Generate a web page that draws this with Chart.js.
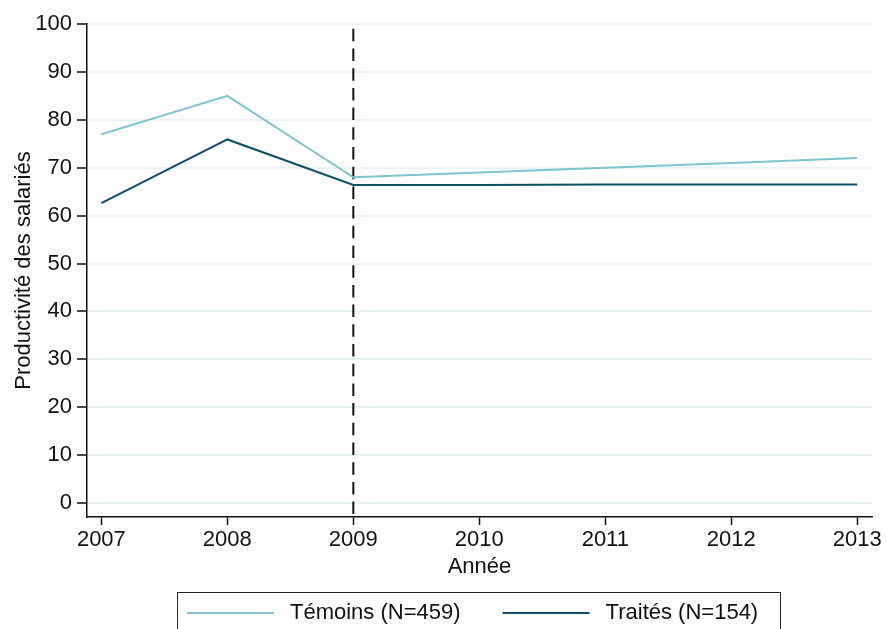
<!DOCTYPE html>
<html>
<head>
<meta charset="utf-8">
<script src="https://cdn.jsdelivr.net/npm/chart.js@4/dist/chart.umd.min.js"></script>
<style>
  html, body { margin: 0; padding: 0; background: #fff; }
  canvas { display: block; }
</style>
</head>
<body>
<canvas id="mainChart" width="887" height="629"></canvas>
<script>
var years = [2007, 2008, 2009, 2010, 2011, 2012, 2013],
  temoins = [77, 85, 68, 69, 70, 71, 72],
  traites = [62.6, 75.9, 66.4, 66.4, 66.5, 66.5, 66.5],
  yTicks = [0, 10, 20, 30, 40, 50, 60, 70, 80, 90, 100],
  breakYear = 2009,
  breakRange = [99, -2.9];

var FONT = 'Liberation Sans, Arial, sans-serif';

function pts (vals) {
  return years.map(function (y, i) { return { x: y, y: vals[i] }; });
}

// legend drawn in a framed box, like the original
var boxLegend = {
  id: 'boxLegend',
  afterDraw: function (chart) {
    var ctx = chart.ctx,
      items = chart.data.datasets.filter(function (d) { return d.inLegend; });
    ctx.save();
    ctx.strokeStyle = '#222';
    ctx.lineWidth = 1;
    ctx.strokeRect(177.5, 592.5, 603, 50);
    ctx.font = '22px ' + FONT;
    ctx.fillStyle = '#111';
    ctx.textBaseline = 'middle';
    var x = 187;
    items.forEach(function (d) {
      ctx.strokeStyle = d.borderColor;
      ctx.lineWidth = 2;
      ctx.beginPath();
      ctx.moveTo(x, 613);
      ctx.lineTo(x + 87, 613);
      ctx.stroke();
      ctx.fillText(d.label, x + 103, 613);
      x += 103 + ctx.measureText(d.label).width + 42;
    });
    ctx.restore();
  }
};

var ctx = document.getElementById('mainChart');

new Chart(ctx, {
  type: 'line',
  data: {
    datasets: [{
      label: 'Témoins (N=459)',
      data: pts(temoins),
      borderColor: '#7ec4cf',
      borderWidth: 2,
      pointRadius: 0,
      tension: 0,
      inLegend: true
    }, {
      label: 'Traités (N=154)',
      data: pts(traites),
      borderColor: '#0b5066',
      borderWidth: 2,
      pointRadius: 0,
      tension: 0,
      inLegend: true
    }, {
      label: 'break',
      data: [{ x: breakYear, y: breakRange[0] }, { x: breakYear, y: breakRange[1] }],
      borderColor: '#111',
      borderWidth: 2,
      borderDash: [12.5, 7.2],
      pointRadius: 0
    }]
  },
  options: {
    responsive: false,
    animation: false,
    layout: { padding: { left: 0, top: 24, right: 15, bottom: 49 } },
    plugins: {
      legend: { display: false },
      tooltip: { enabled: false }
    },
    scales: {
      x: {
        type: 'linear',
        min: 2006.886,
        max: 2013.117,
        afterBuildTicks: function (s) { s.ticks = years.map(function (v) { return { value: v }; }); },
        afterFit: function (s) { s.height = 63; },
        ticks: {
          autoSkip: false,
          maxRotation: 0,
          padding: 2,
          color: '#111',
          font: { family: FONT, size: 22 },
          callback: function (v) { return String(v); }
        },
        grid: { drawOnChartArea: false, tickLength: 8, tickColor: '#111', tickWidth: 1.5 },
        border: { color: '#111', width: 1.5 },
        title: {
          display: true,
          text: 'Année',
          color: '#111',
          padding: { top: 0, bottom: 0 },
          font: { family: FONT, size: 22 }
        }
      },
      y: {
        min: -2.92,
        max: 100,
        afterBuildTicks: function (s) { s.ticks = yTicks.map(function (v) { return { value: v }; }); },
        afterFit: function (s) { s.width = 87; },
        ticks: {
          padding: 5,
          color: '#111',
          font: { family: FONT, size: 22 }
        },
        grid: { color: '#e8f1f3', lineWidth: 2, tickLength: 10, tickColor: '#111', tickWidth: 1.5 },
        border: { color: '#111', width: 1.5 },
        title: {
          display: true,
          text: 'Productivité des salariés',
          color: '#111',
          padding: { top: 11, bottom: 0 },
          font: { family: FONT, size: 22 }
        }
      }
    }
  },
  plugins: [boxLegend]
});
</script>
</body>
</html>
